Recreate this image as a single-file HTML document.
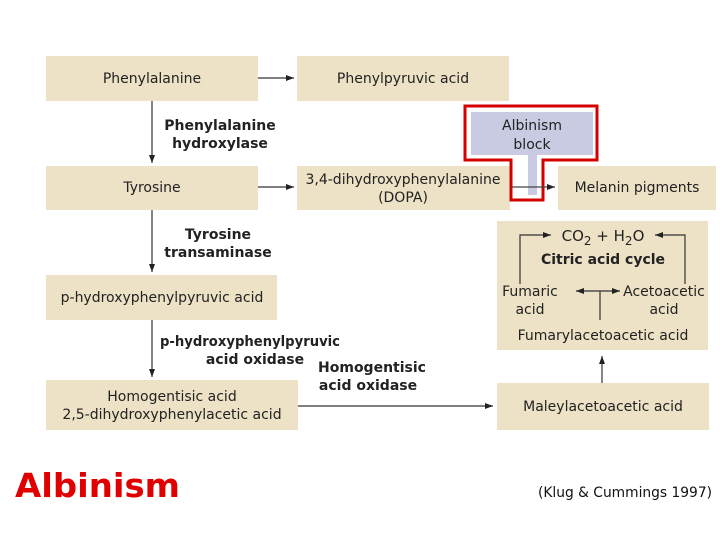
<!DOCTYPE html>
<html><head><meta charset="utf-8"><style>
html,body{margin:0;padding:0;background:#fff;}
svg text{font-family:"DejaVu Sans","Liberation Sans",sans-serif;fill:#222;}
</style></head><body>
<svg width="720" height="540" viewBox="0 0 720 540" xmlns="http://www.w3.org/2000/svg">
<defs>
<marker id="a" markerWidth="8" markerHeight="6" refX="8" refY="3" orient="auto" markerUnits="userSpaceOnUse"><path d="M0,0 L8,3 L0,6 Z" fill="#222"/></marker>
</defs>
<g fill="#ede2c6">
<rect x="46" y="56" width="212" height="45"/>
<rect x="297" y="56" width="212" height="45"/>
<rect x="46" y="166" width="212" height="44"/>
<rect x="297" y="166" width="213" height="44"/>
<rect x="558" y="166" width="158" height="44"/>
<rect x="497" y="221" width="211" height="129"/>
<rect x="46" y="275" width="231" height="45"/>
<rect x="46" y="380" width="252" height="50"/>
<rect x="497" y="383" width="212" height="47"/>
</g>
<g stroke="#333" stroke-width="1.2" fill="none">
<line x1="258" y1="78" x2="294" y2="78" marker-end="url(#a)"/>
<line x1="258" y1="187" x2="294" y2="187" marker-end="url(#a)"/>
<line x1="152" y1="101" x2="152" y2="163" marker-end="url(#a)"/>
<line x1="152" y1="210" x2="152" y2="272" marker-end="url(#a)"/>
<line x1="152" y1="320" x2="152" y2="377" marker-end="url(#a)"/>
<line x1="298" y1="406" x2="493" y2="406" marker-end="url(#a)"/>
<line x1="602" y1="383" x2="602" y2="356" marker-end="url(#a)"/>
<path d="M520,284 V235 H551" marker-end="url(#a)"/>
<path d="M685,284 V235 H655" marker-end="url(#a)"/>
<line x1="600" y1="291" x2="576" y2="291" marker-end="url(#a)"/>
<line x1="600" y1="291" x2="620" y2="291" marker-end="url(#a)"/>
<line x1="600" y1="291" x2="600" y2="320"/>
</g>
<path d="M465,106 H597 V160 H543 V200 H511 V160 H465 Z" fill="#fff" stroke="#d40000" stroke-width="3"/>
<rect x="471" y="112" width="122" height="43" fill="#c8cbe2"/>
<rect x="528" y="155" width="9" height="40" fill="#c8cbe2"/>
<line x1="511" y1="187" x2="555" y2="187" stroke="#444" stroke-width="1.2" marker-end="url(#a)"/>
<g font-size="14" text-anchor="middle">
<text x="152" y="83">Phenylalanine</text>
<text x="403" y="83">Phenylpyruvic acid</text>
<text x="152" y="192">Tyrosine</text>
<text x="403" y="184">3,4-dihydroxyphenylalanine</text>
<text x="403" y="202">(DOPA)</text>
<text x="637" y="192">Melanin pigments</text>
<text x="532" y="130">Albinism</text>
<text x="532" y="149">block</text>
<text x="162" y="302">p-hydroxyphenylpyruvic acid</text>
<text x="172" y="401">Homogentisic acid</text>
<text x="172" y="419">2,5-dihydroxyphenylacetic acid</text>
<text x="603" y="411">Maleylacetoacetic acid</text>
<text x="603" y="340">Fumarylacetoacetic acid</text>
<text x="530" y="296">Fumaric</text>
<text x="530" y="314">acid</text>
<text x="664" y="296">Acetoacetic</text>
<text x="664" y="314">acid</text>
<text x="603" y="241" font-size="15">CO<tspan font-size="12" dy="4">2</tspan><tspan dy="-4"> + H</tspan><tspan font-size="12" dy="4">2</tspan><tspan dy="-4">O</tspan></text>
</g>
<g font-size="14" font-weight="bold" text-anchor="middle">
<text x="220" y="130">Phenylalanine</text>
<text x="220" y="148">hydroxylase</text>
<text x="218" y="239">Tyrosine</text>
<text x="218" y="257">transaminase</text>
<text x="250" y="346" textLength="180" lengthAdjust="spacingAndGlyphs">p-hydroxyphenylpyruvic</text>
<text x="255" y="364">acid oxidase</text>
<text x="372" y="372">Homogentisic</text>
<text x="368" y="390">acid oxidase</text>
<text x="603" y="264">Citric acid cycle</text>
</g>
<text x="15" y="497" font-family="Liberation Sans,sans-serif" font-size="33" font-weight="bold" textLength="165" lengthAdjust="spacingAndGlyphs" style="fill:#e00000">Albinism</text>
<text x="538" y="497" font-family="Liberation Sans,sans-serif" font-size="14" textLength="174" lengthAdjust="spacingAndGlyphs" style="fill:#111">(Klug &amp; Cummings 1997)</text>
</svg>
</body></html>
